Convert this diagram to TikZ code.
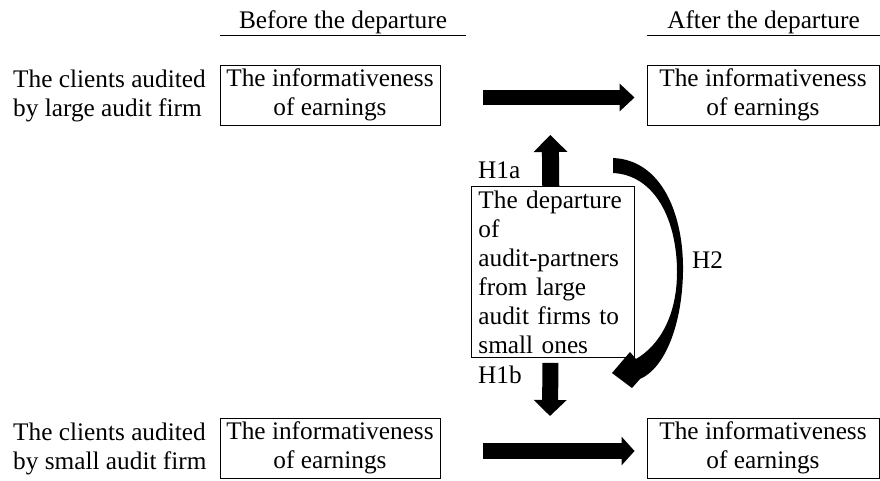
\documentclass[tikz,border=0pt]{standalone}
\usepackage{fontspec}
\setmainfont{Liberation Serif}
\usetikzlibrary{arrows.meta}
\begin{document}
\begin{tikzpicture}[x=1pt,y=-1pt,
  font=\fontsize{25.3pt}{29pt}\selectfont,
  box/.style={draw,line width=0.9pt,align=center,inner sep=0pt,minimum height=60pt},
  lbl/.style={align=left,inner sep=0pt,anchor=west},
  hdr/.style={inner sep=0pt,anchor=base},
  hyp/.style={inner sep=0pt,anchor=base west},
  rule/.style={line width=0.9pt},
  harrow/.style={line width=15pt,-{Triangle[width=27pt,length=15pt]}},
  harrowb/.style={line width=16pt,-{Triangle[width=28pt,length=13pt]}},
  uparrow/.style={line width=17pt,-{Triangle[width=33pt,length=17pt]}},
  dnarrow/.style={line width=16pt,-{Triangle[width=32pt,length=16pt]}}]
\useasboundingbox (0,0) rectangle (880,480);

% headers
\node[hdr,minimum width=246pt] (hb) at (343,28) {Before the departure};
\node[hdr,minimum width=233pt] (ha) at (763.5,28) {After the departure};
\draw[rule] ([yshift=-7pt]hb.base west) -- ([yshift=-7pt]hb.base east);
\draw[rule] ([yshift=-7pt]ha.base west) -- ([yshift=-7pt]ha.base east);

% row labels
\node[lbl] (ll) at (13,96) {The clients audited\\by large audit firm};
\node[lbl] (sl) at (13,449) {The clients audited\\by small audit firm};

% boxes
\node[box,minimum width=220pt] (tl) at (330,95) {The informativeness\\of earnings};
\node[box,minimum width=232pt] (tr) at (763,95) {The informativeness\\of earnings};
\node[box,minimum width=220pt] (bl) at (330,448) {The informativeness\\of earnings};
\node[box,minimum width=232pt] (br) at (763,448) {The informativeness\\of earnings};

% central box
\node[draw,line width=0.9pt,anchor=north west,text width=149pt,align=left,
      inner xsep=7pt,inner ysep=0pt,minimum height=171pt] (dep) at (471,186)
  {The departure\\of\\audit-partners\\from large\\audit firms to\\small ones};

% horizontal arrows
\draw[harrow] ([xshift=43pt,yshift=-2.5pt]tl.east) -- ([xshift=-12pt,yshift=-2.5pt]tr.west);
\draw[harrowb] ([xshift=43pt,yshift=-3pt]bl.east) -- ([xshift=-12pt,yshift=-3pt]br.west);

% vertical arrows
\coordinate (uptip) at (550.3,135);
\coordinate (dntip) at (550,416);
\draw[uparrow] ([xshift=-2.2pt]dep.north) -- (uptip);
\draw[dnarrow] ([xshift=-2.5pt,yshift=-5pt]dep.south) -- (dntip);

% curved arrow H2
\fill (613,158) .. controls (662,160) and (684,215) .. (683,272)
  .. controls (682,325) and (665,368) .. (640,379)
  -- (632,388) -- (612,373) -- (630,352) -- (636,359)
  .. controls (660,345) and (677,315) .. (677,272)
  .. controls (677,220) and (655,175) .. (613,173) -- cycle;

% hypothesis labels
\node[hyp] (h1a) at (478,178) {H1a};
\node[hyp] (h1b) at (478,383) {H1b};
\node[hyp] (h2) at (692,268) {H2};
\end{tikzpicture}
\end{document}
